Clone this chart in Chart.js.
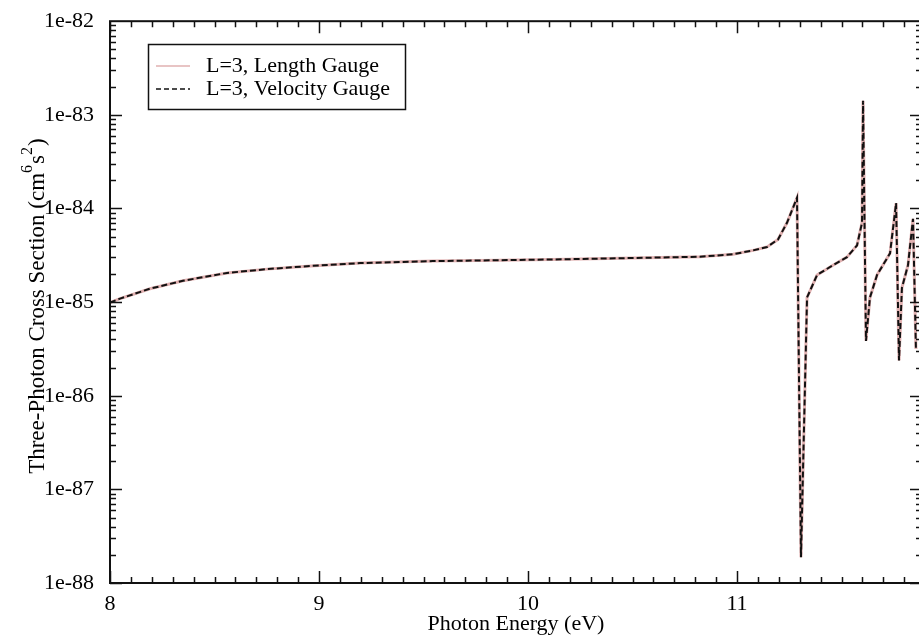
<!DOCTYPE html>
<html>
<head>
<meta charset="utf-8">
<script src="https://cdn.jsdelivr.net/npm/chart.js@4.4.0/dist/chart.umd.min.js"></script>
<style>
html, body { margin: 0; padding: 0; background: #fff; overflow: hidden; }
#wrap { position: relative; width: 922px; height: 642px; }
</style>
</head>
<body>
<div id="wrap"><canvas id="chart"></canvas></div>
<script>
// photon energy (eV)
const energy = [8.0, 8.048, 8.191, 8.349, 8.56, 8.751, 8.943, 9.196, 9.545, 9.866, 10.187, 10.44, 10.823,
    10.981, 11.077, 11.144, 11.196, 11.239, 11.287, 11.306, 11.335, 11.383, 11.459, 11.526, 11.574,
    11.598, 11.603, 11.617, 11.636, 11.67, 11.732, 11.761, 11.775, 11.789, 11.818, 11.842, 11.856]
// three-photon cross section (cm^6 s^2)
const lengthGauge = [9.9e-86, 1.09e-85, 1.39e-85, 1.69e-85, 2.05e-85, 2.25e-85, 2.42e-85, 2.61e-85, 2.74e-85,
    2.80e-85, 2.87e-85, 2.94e-85, 3.05e-85, 3.24e-85, 3.57e-85, 3.88e-85, 4.66e-85, 7.03e-85, 1.30e-84,
    1.88e-88, 1.12e-85, 1.95e-85, 2.48e-85, 3.02e-85, 4.03e-85, 7.03e-85, 1.41e-83, 3.85e-86, 1.12e-85,
    1.95e-85, 3.32e-85, 1.14e-84, 2.38e-86, 1.42e-85, 2.48e-85, 7.74e-85, 3.16e-86]
const velocityGauge = [9.9e-86, 1.09e-85, 1.39e-85, 1.69e-85, 2.05e-85, 2.25e-85, 2.42e-85, 2.61e-85, 2.74e-85,
    2.80e-85, 2.87e-85, 2.94e-85, 3.05e-85, 3.24e-85, 3.57e-85, 3.88e-85, 4.66e-85, 7.03e-85, 1.30e-84,
    1.88e-88, 1.12e-85, 1.95e-85, 2.48e-85, 3.02e-85, 4.03e-85, 7.03e-85, 1.41e-83, 3.85e-86, 1.12e-85,
    1.95e-85, 3.32e-85, 1.14e-84, 2.38e-86, 1.42e-85, 2.48e-85, 7.74e-85, 3.16e-86]
const xTicks = [8, 9, 10, 11]
const yTicks = [1e-88, 1e-87, 1e-86, 1e-85, 1e-84, 1e-83, 1e-82]
const seriesNames = ['L=3, Length Gauge', 'L=3, Velocity Gauge']

const FONT = '"Liberation Serif", "Times New Roman", serif'

// frame, inward ticks on all four sides, axis titles and the legend box
const xmgrace = {
    id: 'xmgrace',
    afterDatasetsDraw(chart) {
        const { ctx, chartArea: a, scales: { x, y } } = chart
        ctx.save()
        ctx.strokeStyle = '#111'
        ctx.lineWidth = 1.5
        ctx.beginPath()
        for (let i = 80; i <= 118; i++) {
            const px = Math.round(x.getPixelForValue(i / 10)) + 0.5
            const len = i % 10 === 0 ? 12 : 6
            ctx.moveTo(px, a.bottom); ctx.lineTo(px, a.bottom - len)
            ctx.moveTo(px, a.top); ctx.lineTo(px, a.top + len)
        }
        for (let n = -88; n <= -83; n++) {
            for (let m = 1; m <= 9; m++) {
                const py = Math.round(y.getPixelForValue(m * Math.pow(10, n))) + 0.5
                const len = m === 1 ? 12 : 6
                ctx.moveTo(a.left, py); ctx.lineTo(a.left + len, py)
                ctx.moveTo(a.right, py); ctx.lineTo(a.right - len, py)
            }
        }
        ctx.stroke()
        ctx.lineWidth = 2
        ctx.strokeRect(a.left, a.top, a.right - a.left, a.bottom - a.top)

        // axis titles
        ctx.fillStyle = '#000'
        ctx.font = '22px ' + FONT
        ctx.textAlign = 'center'
        ctx.textBaseline = 'middle'
        ctx.fillText('Photon Energy (eV)', (a.left + a.right) / 2, 624)

        ctx.save()
        ctx.translate(38, (a.top + a.bottom) / 2 + 4)
        ctx.rotate(-Math.PI / 2)
        const parts = [['Three-Photon Cross Section (cm', 0], ['6', 1], ['s', 0], ['2', 1], [')', 0]]
        let total = 0
        parts.forEach(([t, sup]) => {
            ctx.font = (sup ? '16px ' : '23px ') + FONT
            total += ctx.measureText(t).width + (sup ? 1 : 0)
        })
        let cx = -total / 2
        ctx.textAlign = 'left'
        parts.forEach(([t, sup]) => {
            ctx.font = (sup ? '16px ' : '23px ') + FONT
            ctx.fillText(t, cx, sup ? -10 : 0)
            cx += ctx.measureText(t).width + (sup ? 1 : 0)
        })
        ctx.restore()

        // legend
        ctx.lineWidth = 1.5
        ctx.strokeStyle = '#111'
        ctx.strokeRect(148.5, 44.5, 257, 65)
        chart.data.datasets.forEach((ds, i) => {
            const ly = 66 + i * 23
            ctx.beginPath()
            ctx.strokeStyle = ds.borderColor
            ctx.lineWidth = 1.5
            ctx.setLineDash(i === 1 ? [5, 3] : [])
            ctx.moveTo(156, ly); ctx.lineTo(190, ly)
            ctx.stroke()
            ctx.setLineDash([])
            ctx.font = '22px ' + FONT
            ctx.fillStyle = '#000'
            ctx.textAlign = 'left'
            ctx.fillText(ds.label, 206, ly)
        })
        ctx.restore()
    }
}

const chart = new Chart(document.getElementById('chart'), {
    type: 'line',
    data: {
        labels: energy,
        datasets: [{
            label: seriesNames[0],
            data: energy.map((e, i) => ({ x: e, y: lengthGauge[i] })),
            borderColor: '#e0b0b0',
            borderWidth: 3,
            pointRadius: 0,
            tension: 0,
            order: 1
        }, {
            label: seriesNames[1],
            data: energy.map((e, i) => ({ x: e, y: velocityGauge[i] })),
            borderColor: '#111',
            borderWidth: 2,
            borderDash: [6, 3],
            pointRadius: 0,
            tension: 0,
            order: 0
        }]
    },
    options: {
        responsive: true,
        maintainAspectRatio: false,
        animation: false,
        layout: { padding: { top: 12, right: 0, left: 0, bottom: 0 } },
        plugins: {
            legend: { display: false },
            tooltip: { enabled: false }
        },
        scales: {
            x: {
                type: 'linear',
                min: 8,
                max: 11.885,
                grid: { display: false },
                border: { display: false },
                afterBuildTicks: (s) => { s.ticks = xTicks.map(v => ({ value: v })) },
                afterFit: (s) => { s.height = 59 },
                ticks: {
                    color: '#000',
                    font: { family: FONT, size: 22 },
                    padding: 0,
                    maxRotation: 0,
                    callback: (v) => String(v)
                }
            },
            y: {
                type: 'logarithmic',
                min: 1e-88,
                max: 1e-82,
                grid: { display: false },
                border: { display: false },
                afterBuildTicks: (s) => { s.ticks = yTicks.map(v => ({ value: v })) },
                afterFit: (s) => { s.width = 110 },
                ticks: {
                    color: '#000',
                    font: { family: FONT, size: 22 },
                    padding: 8,
                    callback: (v) => '1e' + Math.round(Math.log10(v))
                }
            }
        }
    },
    plugins: [xmgrace]
})
</script>
</body>
</html>
